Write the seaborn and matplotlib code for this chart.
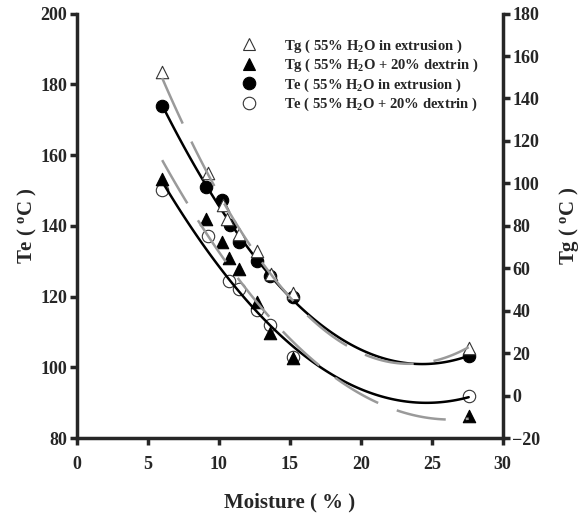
#!/usr/bin/env python3
import numpy as np
import pandas as pd
import matplotlib
matplotlib.use('Agg')
import matplotlib.pyplot as plt
import seaborn as sns
from matplotlib.lines import Line2D

# data
# Te (55% H2O in extrusion) - filled circles
te_ext_x = [6.0, 9.1, 10.2, 10.8, 11.4, 12.7, 13.6, 15.2, 27.6]
te_ext_y = [174.0, 151.1, 147.2, 140.1, 135.3, 130.1, 125.9, 119.8, 103.2]
# Te (55% H2O + 20% dextrin) - open circles
te_dex_x = [6.0, 9.2, 10.7, 11.4, 12.7, 13.6, 15.2, 27.6]
te_dex_y = [150.0, 137.2, 124.4, 122.1, 116.2, 112.0, 103.0, 91.9]
# Tg (55% H2O in extrusion) - open triangles
tg_ext_x = [6.0, 9.2, 10.3, 10.6, 11.4, 12.7, 13.7, 15.2, 27.6]
tg_ext_y = [152.3, 105.1, 89.8, 83.2, 76.2, 68.2, 57.4, 48.5, 22.3]
# Tg (55% H2O + 20% dextrin) - filled triangles
tg_dex_x = [6.0, 9.1, 10.2, 10.7, 11.4, 12.7, 13.6, 15.2, 27.6]
tg_dex_y = [102.0, 83.2, 72.3, 65.0, 59.6, 44.3, 29.7, 17.6, -9.5]

labels = [
    r'Tg ( 55% H$_2$O in extrusion )',
    r'Tg ( 55% H$_2$O + 20% dextrin )',
    r'Te ( 55% H$_2$O in extrusion )',
    r'Te ( 55% H$_2$O + 20% dextrin )',
]

sns.set_style('ticks')
plt.rcParams.update({
    'font.family': ['Liberation Serif', 'DejaVu Serif'],
    'font.weight': 'bold',
    'axes.labelweight': 'bold',
    'mathtext.fontset': 'custom',
    'mathtext.rm': 'Liberation Serif:bold',
    'mathtext.it': 'Liberation Serif:bold',
    'mathtext.bf': 'Liberation Serif:bold',
})

fig = plt.figure(figsize=(5.88, 5.23), dpi=100)
ax = fig.add_axes([0.131, 0.1625, 0.724, 0.8115])
ax2 = ax.twinx()

gray = '#9a9a9a'
lw = 1.8
dash = (20, 8)

# fitted curves (quadratic)
sns.regplot(x=te_ext_x, y=te_ext_y, order=2, ci=None, scatter=False, truncate=True,
            ax=ax, line_kws=dict(color='black', lw=lw, zorder=5))
sns.regplot(x=te_dex_x, y=te_dex_y, order=2, ci=None, scatter=False, truncate=True,
            ax=ax, line_kws=dict(color='black', lw=lw, zorder=5))
sns.regplot(x=tg_ext_x, y=tg_ext_y, order=2, ci=None, scatter=False, truncate=True,
            ax=ax2, line_kws=dict(color=gray, lw=lw, dashes=dash, zorder=5))
sns.regplot(x=tg_dex_x, y=tg_dex_y, order=2, ci=None, scatter=False, truncate=True,
            ax=ax2, line_kws=dict(color=gray, lw=lw, dashes=dash, zorder=5))

ms = 80
sns.scatterplot(x=te_ext_x, y=te_ext_y, ax=ax, marker='o', s=ms, color='black',
                edgecolor='black', linewidth=0.8, zorder=3)
sns.scatterplot(x=te_dex_x, y=te_dex_y, ax=ax, marker='o', s=ms, color='white',
                edgecolor='#333333', linewidth=0.8, zorder=3)
sns.scatterplot(x=tg_ext_x, y=tg_ext_y, ax=ax2, marker='^', s=ms, color='white',
                edgecolor='#333333', linewidth=0.8, zorder=4)
sns.scatterplot(x=tg_dex_x, y=tg_dex_y, ax=ax2, marker='^', s=ms, color='black',
                edgecolor='black', linewidth=0.8, zorder=4)

ax.set_xlim(0, 30)
ax.set_ylim(80, 200)
ax2.set_ylim(-20, 180)
ax.set_xticks(range(0, 31, 5))
ax.set_yticks(range(80, 201, 20))
ax2.set_yticks(range(-20, 181, 20))

for a in (ax, ax2):
    a.spines['top'].set_visible(False)
    for s in ('left', 'right', 'bottom'):
        a.spines[s].set_linewidth(2.5)
    a.tick_params(width=2.5, length=5, labelsize=13, direction='out', pad=2)
ax.spines['right'].set_visible(False)
ax2.spines['left'].set_visible(False)
ax2.spines['bottom'].set_visible(False)
ax.tick_params(axis='x', pad=8)
for t in ax.get_xticklabels() + ax.get_yticklabels() + ax2.get_yticklabels():
    t.set_fontweight('bold')

ax.set_xlabel('Moisture ( % )', fontsize=15, labelpad=14)
ax.set_ylabel(r'Te ( $^{\mathrm{o}}$C )', fontsize=15, labelpad=1)
ax2.set_ylabel(r'Tg ( $^{\mathrm{o}}$C )', fontsize=15, labelpad=12)

# legend
handles = [
    Line2D([], [], ls='none', marker='^', ms=9, mfc='white', mec='#333333', mew=0.8),
    Line2D([], [], ls='none', marker='^', ms=9, mfc='black', mec='black', mew=0.8),
    Line2D([], [], ls='none', marker='o', ms=9, mfc='black', mec='black', mew=0.8),
    Line2D([], [], ls='none', marker='o', ms=9, mfc='white', mec='#333333', mew=0.8),
]
ax2.legend(handles, labels, loc='upper left', bbox_to_anchor=(0.355, 0.975),
           frameon=False, fontsize=10.5, handletextpad=1.9, labelspacing=0.15,
           handlelength=1.0)

plt.savefig('out.png', dpi=100)
plt.close()
